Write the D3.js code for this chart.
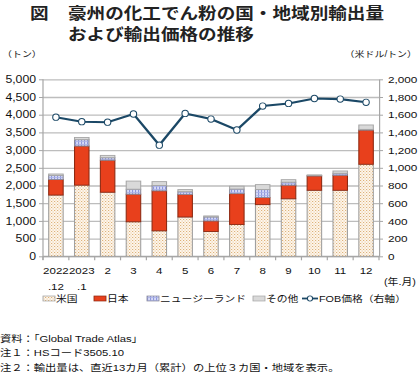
<!DOCTYPE html>
<html>
<head>
<meta charset="utf-8">
<script src="https://cdn.jsdelivr.net/npm/d3@7"></script>
<style>
  html, body { margin: 0; padding: 0; background: #fff; }
  svg { display: block; font-family: "Liberation Sans", "Noto Sans CJK JP", sans-serif; }
</style>
</head>
<body>
<div id="chart"></div>
<script>
// data
const months = ["2022.12", "2023.1", "2", "3", "4", "5", "6", "7", "8", "9", "10", "11", "12"];
const labelTop = ["2022", "2023", "2", "3", "4", "5", "6", "7", "8", "9", "10", "11", "12"];
const labelBottom = [".12", ".1", "", "", "", "", "", "", "", "", "", "", ""];
const usa = [1730, 2010, 1810, 975, 720, 1110, 700, 900, 1460, 1625, 1865, 1865, 2600];
const japan = [440, 1105, 905, 780, 1130, 640, 300, 870, 200, 385, 405, 425, 965];
const nz = [115, 180, 70, 140, 150, 75, 110, 130, 225, 85, 10, 55, 20];
const other = [40, 60, 65, 230, 110, 60, 30, 80, 140, 70, 20, 65, 125];
const fob = [1572, 1521, 1515, 1608, 1256, 1614, 1551, 1427, 1698, 1727, 1783, 1776, 1740];
const leftTicks = [0, 500, 1000, 1500, 2000, 2500, 3000, 3500, 4000, 4500, 5000];
const rightTicks = [0, 200, 400, 600, 800, 1000, 1200, 1400, 1600, 1800, 2000];
const seriesKeys = ["usa", "japan", "nz", "other"];
const seriesNames = ["米国", "日本", "ニュージーランド", "その他"];

// the reference is stretched sideways a little, so draw in a narrower box and stretch it
const SX = 1.2;
const W = 420, H = 372;
const X = v => v / SX;

const svg = d3.select("#chart").append("svg")
  .attr("width", W).attr("height", H)
  .attr("viewBox", [0, 0, W / SX, H])
  .attr("preserveAspectRatio", "none");

const defs = svg.append("defs");
const pUs = defs.append("pattern").attr("id", "pUs").attr("patternUnits", "userSpaceOnUse")
  .attr("width", 2.5).attr("height", 3);
pUs.append("rect").attr("width", 2.5).attr("height", 3).attr("fill", "#fdf6ec");
pUs.append("rect").attr("width", 1).attr("height", 1).attr("fill", "#deb27a");
pUs.append("rect").attr("x", 1.25).attr("y", 1.5).attr("width", 1).attr("height", 1).attr("fill", "#e9c79c");

const pNz = defs.append("pattern").attr("id", "pNz").attr("patternUnits", "userSpaceOnUse")
  .attr("width", 2.5).attr("height", 3);
pNz.append("rect").attr("width", 2.5).attr("height", 3).attr("fill", "#d6daf6");
pNz.append("rect").attr("width", 0.9).attr("height", 3).attr("fill", "#8f97dc");
pNz.append("rect").attr("width", 2.5).attr("height", 0.8).attr("fill", "#aab1e6");

const fills = { usa: "url(#pUs)", japan: "#e8401c", nz: "url(#pNz)", other: "#d9d9d9" };
const strokes = { usa: "#a0a0a0", japan: "#8e2a12", nz: "#8a8a9a", other: "#a6a6a6" };

const x = d3.scaleBand().domain(months).range([X(43), X(379)]).paddingInner(0.44).paddingOuter(0.22);
const yL = d3.scaleLinear().domain([0, 5000]).range([256.3, 79.3]);
const yR = d3.scaleLinear().domain([0, 2000]).range([256.3, 79.3]);

// title
const title = svg.append("g").attr("font-family", "'Noto Sans CJK JP', sans-serif")
  .attr("font-weight", 700).attr("font-size", 15.5).attr("fill", "#222");
title.append("text").attr("x", X(30)).attr("y", 19).text("図");
title.append("text").attr("x", X(68)).attr("y", 19).text("豪州の化工でん粉の国・地域別輸出量");
title.append("text").attr("x", X(68)).attr("y", 40).text("および輸出価格の推移");

svg.append("text").attr("x", X(2)).attr("y", 57).attr("font-size", 8.3).attr("fill", "#222").text("（トン）");
svg.append("text").attr("x", X(417)).attr("y", 57).attr("text-anchor", "end").attr("font-size", 8.3)
  .attr("fill", "#222").text("（米ドル/トン）");

// gridlines
svg.append("g").attr("transform", `translate(${X(43)},0)`)
  .call(d3.axisLeft(yL).tickValues(leftTicks).tickSize(-(X(379) - X(43))).tickFormat(""))
  .call(g => g.select(".domain").remove())
  .call(g => g.selectAll("line").attr("stroke", "#bdbdbd").attr("stroke-width", 1.3));

// left axis
svg.append("g").attr("transform", `translate(${X(43)},0)`)
  .call(d3.axisLeft(yL).tickValues(leftTicks).tickFormat(d3.format(",")).tickSize(X(4)).tickSizeOuter(0).tickPadding(X(3)))
  .call(g => g.select(".domain").attr("stroke", "#a6a6a6").attr("d", `M0,79.3V260`))
  .call(g => g.selectAll("line").attr("stroke", "#a6a6a6"))
  .call(g => g.selectAll("text").attr("font-size", 10.2).attr("fill", "#111").attr("font-family", "Liberation Sans, Arial, sans-serif"));

// right axis
svg.append("g").attr("transform", `translate(${X(379)},0)`)
  .call(d3.axisRight(yR).tickValues(rightTicks).tickFormat(d3.format(",")).tickSize(X(4)).tickSizeOuter(0).tickPadding(X(5)))
  .call(g => g.select(".domain").attr("stroke", "#a6a6a6"))
  .call(g => g.selectAll("line").attr("stroke", "#a6a6a6"))
  .call(g => g.selectAll("text").attr("font-size", 9.8).attr("fill", "#111").attr("font-family", "Liberation Sans, Arial, sans-serif"));

// category axis: baseline and separators
const gap = (x.step() - x.bandwidth()) / 2;
const bounds = months.map(m => x(m) - gap).concat([x.range()[1]]);
svg.append("line").attr("x1", X(43)).attr("x2", X(379)).attr("y1", yL(0)).attr("y2", yL(0))
  .attr("stroke", "#a6a6a6").attr("stroke-width", 1.2);
svg.append("g").selectAll("line").data(bounds).join("line")
  .attr("x1", d => d).attr("x2", d => d).attr("y1", yL(0)).attr("y2", yL(0) + 4)
  .attr("stroke", "#a6a6a6");

// stacked bars
const table = months.map((m, i) => ({ m, usa: usa[i], japan: japan[i], nz: nz[i], other: other[i] }));
const stacked = d3.stack().keys(seriesKeys)(table);
svg.append("g").selectAll("g").data(stacked).join("g")
  .attr("fill", d => fills[d.key]).attr("stroke", d => strokes[d.key]).attr("stroke-width", 0.9)
  .selectAll("rect").data(d => d).join("rect")
  .attr("x", d => x(d.data.m))
  .attr("width", x.bandwidth())
  .attr("y", d => yL(d[1]))
  .attr("height", d => yL(d[0]) - yL(d[1]));

// FOB line on the right axis
const line = d3.line().x((d, i) => x(months[i]) + x.bandwidth() / 2).y(d => yR(d));
svg.append("path").datum(fob).attr("d", line).attr("fill", "none")
  .attr("stroke", "#1b4866").attr("stroke-width", 2.1);
svg.append("g").selectAll("ellipse").data(fob).join("ellipse")
  .attr("cx", (d, i) => x(months[i]) + x.bandwidth() / 2).attr("cy", d => yR(d))
  .attr("rx", X(3.2)).attr("ry", 3.2)
  .attr("fill", "#fff").attr("stroke", "#1b4866").attr("stroke-width", 0.9);

// category labels
const xl = svg.append("g").attr("font-size", 9.6).attr("fill", "#111").attr("text-anchor", "middle");
xl.selectAll("text.top").data(labelTop).join("text").attr("class", "top")
  .attr("x", (d, i) => x(months[i]) + x.bandwidth() / 2).attr("y", 274).text(d => d);
xl.selectAll("text.bot").data(labelBottom).join("text").attr("class", "bot")
  .attr("x", (d, i) => x(months[i]) + x.bandwidth() / 2).attr("y", 290).text(d => d);
svg.append("text").attr("x", X(384)).attr("y", 285).attr("font-size", 9).attr("fill", "#111").text("(年.月)");

// legend
const lg = svg.append("g").attr("font-size", 9).attr("fill", "#111");
const legendX = [43, 94, 147, 253];
seriesKeys.forEach((k, i) => {
  lg.append("rect").attr("x", X(legendX[i])).attr("y", 296).attr("width", X(12)).attr("height", 5)
    .attr("fill", fills[k]).attr("stroke", strokes[k]).attr("stroke-width", 0.7);
  lg.append("text").attr("x", X(legendX[i] + 13)).attr("y", 302.5).text(seriesNames[i]);
});
lg.append("line").attr("x1", X(302)).attr("x2", X(318)).attr("y1", 298.5).attr("y2", 298.5)
  .attr("stroke", "#1b4866").attr("stroke-width", 1.8);
lg.append("ellipse").attr("cx", X(310)).attr("cy", 298.5).attr("rx", X(2.6)).attr("ry", 2.6)
  .attr("fill", "#fff").attr("stroke", "#1b4866").attr("stroke-width", 0.9);
lg.append("text").attr("x", X(319)).attr("y", 302.5).text("FOB価格（右軸）");

// notes
const notes = ["資料：「Global Trade Atlas」", "注１：HSコード3505.10", "注２：輸出量は、直近13カ月（累計）の上位３カ国・地域を表示。"];
svg.append("g").attr("font-size", 9.4).attr("fill", "#111")
  .selectAll("text").data(notes).join("text")
  .attr("x", X(0)).attr("y", (d, i) => 342 + i * 14.5).text(d => d);
</script>
</body>
</html>
